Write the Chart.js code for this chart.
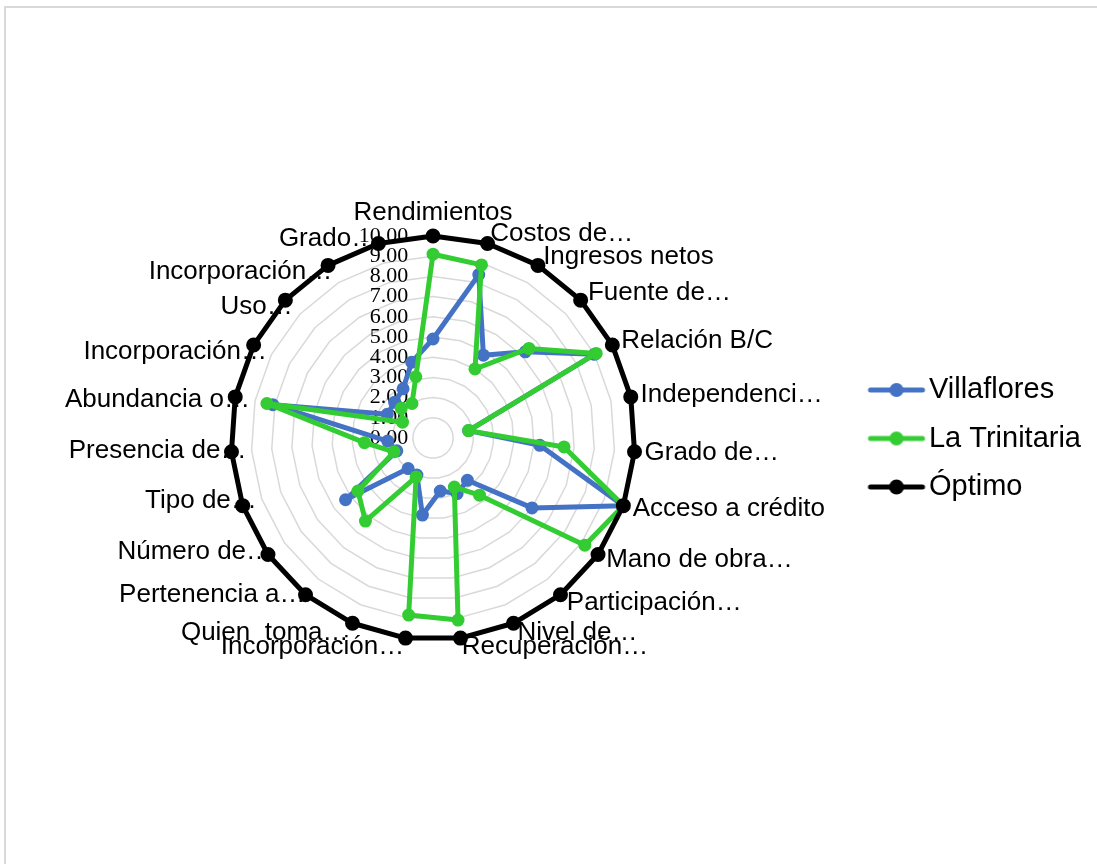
<!DOCTYPE html>
<html>
<head>
<meta charset="utf-8">
<script src="https://cdn.jsdelivr.net/npm/chart.js"></script>
<style>
  html, body { margin: 0; padding: 0; background: #ffffff; overflow: hidden; width: 1097px; height: 864px; }
  #frame { position: absolute; left: 4px; top: 6px; width: 2000px; height: 2000px;
           border-top: 2px solid #d9d9d9; border-left: 2px solid #d9d9d9; box-sizing: border-box; }
  #c { position: absolute; left: 0; top: 0; }
</style>
</head>
<body>
<div id="frame"></div>
<canvas id="c" width="1097" height="864"></canvas>
<script>
// ---- data ----
const categories = [
  'Rendimientos', 'Costos de…', 'Ingresos netos', 'Fuente de…', 'Relación B/C',
  'Independenci…', 'Grado de…', 'Acceso a crédito', 'Mano de obra…', 'Participación…',
  'Nivel de…', 'Recuperación…', 'Incorporación…', 'Quien  toma…', 'Pertenencia a…',
  'Número de…', 'Tipo de…', 'Presencia de…', 'Abundancia o…', 'Incorporación…',
  'Uso…', 'Incorporación…', 'Grado…'
];
const villaflores  = [4.9, 8.4, 4.8, 6.25, 9.0, 1.8, 5.3, 10, 6.0, 2.7, 3.0, 2.65, 3.85, 2.0, 1.95, 5.3, 1.9, 2.25, 8.1, 2.55, 2.6, 2.85, 3.9];
const laTrinitaria = [9.1, 8.9, 4.0, 6.5, 9.1, 1.8, 6.5, 10, 9.2, 3.65, 2.65, 9.1, 8.85, 2.1, 5.3, 4.55, 2.05, 3.4, 8.4, 1.7, 2.15, 2.0, 3.15];
const optimo       = [10, 10, 10, 10, 10, 10, 10, 10, 10, 10, 10, 10, 10, 10, 10, 10, 10, 10, 10, 10, 10, 10, 10];
const seriesNames  = ['Villaflores', 'La Trinitaria', 'Óptimo'];
const scaleMin = 0, scaleMax = 10, scaleStep = 1;

// ---- styles ----
const colors = ['#4472C4', '#33CC33', '#000000'];
const labelPadding = [23, 10, 10, 10, 10, 10, 10, 10, 10, 10, 10, 9, 9, 10, 0, -5, -15, -15, -15, -15, -10, -8, 5];

function legendSwatch(color, r) {
  const cv = document.createElement('canvas');
  cv.width = 120; cv.height = 20;
  const g = cv.getContext('2d');
  g.strokeStyle = color; g.lineWidth = 5; g.lineCap = 'round';
  g.beginPath(); g.moveTo(45, 10); g.lineTo(97, 10); g.stroke();
  g.fillStyle = color;
  g.beginPath(); g.arc(71, 10, r, 0, Math.PI * 2); g.fill();
  return cv;
}
const swatches = [legendSwatch(colors[0], 7), legendSwatch(colors[1], 7), legendSwatch(colors[2], 7.5)];

function makeDataset(i, values, order, pr) {
  return {
    label: seriesNames[i], data: values, order: order,
    borderColor: colors[i], backgroundColor: colors[i],
    borderWidth: 5, fill: false, tension: 0, borderJoinStyle: 'round',
    pointRadius: pr, pointBorderWidth: 2,
    pointBackgroundColor: colors[i], pointBorderColor: colors[i]
  };
}

new Chart(document.getElementById('c'), {
  type: 'radar',
  data: {
    labels: categories,
    datasets: [
      makeDataset(0, villaflores, 2, 5.5),
      makeDataset(1, laTrinitaria, 1, 5.5),
      makeDataset(2, optimo, 0, 6.5)
    ]
  },
  options: {
    responsive: false,
    animation: false,
    devicePixelRatio: 1,
    layout: { padding: { left: 54, right: 6, top: 25, bottom: 12 } },
    plugins: {
      tooltip: { enabled: false },
      legend: {
        position: 'right',
        labels: {
          usePointStyle: true,
          pointStyleWidth: 58,
          padding: 19.5,
          color: '#000000',
          font: { family: 'Liberation Sans', size: 29 },
          sort: (a, b) => a.datasetIndex - b.datasetIndex,
          generateLabels: (chart) => {
            const items = Chart.defaults.plugins.legend.labels.generateLabels(chart);
            items.forEach(it => { it.pointStyle = swatches[it.datasetIndex]; });
            return items;
          }
        }
      }
    },
    scales: {
      r: {
        min: scaleMin, max: scaleMax,
        startAngle: 0,
        angleLines: { display: false },
        grid: {
          color: (ctx) => (ctx.tick && ctx.tick.value === 0) ? 'rgba(0,0,0,0)' : '#d9d9d9',
          lineWidth: 1.5
        },
        afterBuildTicks: (scale) => { scale.ticks = [{ value: scaleMin }].concat(scale.ticks); },
        ticks: {
          stepSize: scaleStep,
          showLabelBackdrop: false,
          backdropPadding: { top: -11, bottom: -11, left: 0, right: 0 },
          color: '#000000',
          font: { family: 'Liberation Serif', size: 22 },
          callback: (v) => (v < 10 ? '\u2002' : '') + Number(v).toFixed(2) + '\u2002'.repeat(9)
        },
        pointLabels: {
          display: true,
          color: '#000000',
          font: { family: 'Liberation Sans', size: 26, lineHeight: 0.001 },
          padding: (ctx) => labelPadding[ctx.index]
        }
      }
    }
  }
});
</script>
</body>
</html>
